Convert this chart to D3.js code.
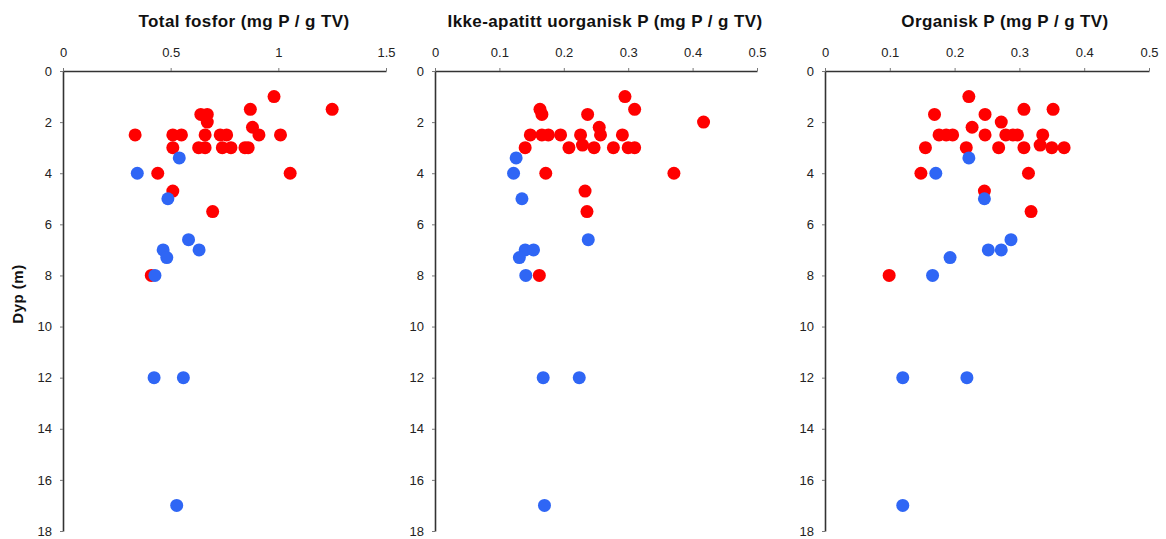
<!DOCTYPE html>
<html>
<head>
<meta charset="utf-8">
<script src="https://cdn.jsdelivr.net/npm/d3@7"></script>
<style>
  body { margin: 0; background: #fff; }
  text { font-family: "Liberation Sans", Arial, sans-serif; }
</style>
</head>
<body>
<div id="chart"></div>
<script>
const W = 1166, H = 539;

// depths (m) shared by the blue series
const blueDepth = [3.4, 4, 5, 6.6, 7, 7, 7.3, 8, 12, 12, 17];

// panel 1: Total fosfor
const totRedDepth = [1, 1.5, 1.5, 1.7, 1.7, 2, 2.2,
  2.5, 2.5, 2.5, 2.5, 2.5, 2.5, 2.5, 2.5,
  3, 3, 3, 3, 3, 3, 3, 4, 4, 4.7, 5.5, 8];
const totRedValue = [0.98, 1.25, 0.87, 0.64, 0.67, 0.67, 0.88,
  0.335, 0.51, 0.55, 0.66, 0.73, 0.76, 0.91, 1.01,
  0.51, 0.63, 0.66, 0.74, 0.78, 0.845, 0.86, 0.44, 1.055, 0.51, 0.695, 0.41];
const totBlueValue = [0.54, 0.345, 0.487, 0.583, 0.465, 0.632, 0.482, 0.427, 0.423, 0.559, 0.528];

// panel 2: Ikke-apatitt uorganisk P
const nairpRedDepth = [1, 1.5, 1.5, 1.7, 1.7, 2, 2.2,
  2.5, 2.5, 2.5, 2.5, 2.5, 2.5, 2.5, 2.9,
  3, 3, 3, 3, 3, 3, 4, 4, 4.7, 5.5, 8];
const nairpRedValue = [0.295, 0.31, 0.163, 0.166, 0.237, 0.417, 0.255,
  0.148, 0.166, 0.176, 0.195, 0.226, 0.257, 0.291, 0.229,
  0.14, 0.208, 0.247, 0.277, 0.30, 0.31, 0.172, 0.371, 0.233, 0.236, 0.162];
const nairpBlueValue = [0.126, 0.122, 0.135, 0.238, 0.14, 0.153, 0.131, 0.141, 0.168, 0.224, 0.17];

// panel 3: Organisk P
const orgRedDepth = [1, 1.5, 1.5, 1.7, 1.7, 2, 2.2,
  2.5, 2.5, 2.5, 2.5, 2.5, 2.5, 2.5, 2.5, 2.9,
  3, 3, 3, 3, 3, 3, 4, 4, 4.7, 5.5, 8];
const orgRedValue = [0.222, 0.307, 0.352, 0.169, 0.247, 0.272, 0.227,
  0.176, 0.187, 0.197, 0.247, 0.279, 0.29, 0.297, 0.336, 0.332,
  0.155, 0.218, 0.268, 0.307, 0.35, 0.369, 0.148, 0.314, 0.246, 0.318, 0.099];
const orgBlueValue = [0.222, 0.171, 0.246, 0.287, 0.252, 0.272, 0.193, 0.166, 0.12, 0.219, 0.12];

const yTicks = [0, 2, 4, 6, 8, 10, 12, 14, 16, 18];
const xTicksTot = [0, 0.5, 1, 1.5];
const xTicksP = [0, 0.1, 0.2, 0.3, 0.4, 0.5];

const panels = [
  {title: "Total fosfor (mg P / g TV)", left: 63, right: 386, titleX: 244, max: 1.5, ticks: xTicksTot,
   redDepth: totRedDepth, redValue: totRedValue, blueValue: totBlueValue},
  {title: "Ikke-apatitt uorganisk P (mg P / g TV)", left: 435, right: 757, titleX: 605, max: 0.5, ticks: xTicksP,
   redDepth: nairpRedDepth, redValue: nairpRedValue, blueValue: nairpBlueValue},
  {title: "Organisk P (mg P / g TV)", left: 825, right: 1149, titleX: 1005, max: 0.5, ticks: xTicksP,
   redDepth: orgRedDepth, redValue: orgRedValue, blueValue: orgBlueValue}
];

const TOP = 71, BOTTOM = 531, R = 6.5;

const svg = d3.select("#chart").append("svg")
  .attr("width", W)
  .attr("height", H);

const y = d3.scaleLinear().domain([0, 18]).range([TOP, BOTTOM]);

panels.forEach(p => {
  const x = d3.scaleLinear().domain([0, p.max]).range([p.left, p.right]);
  const g = svg.append("g");

  // top axis
  const xa = g.append("g")
    .attr("transform", `translate(0,${TOP})`)
    .call(d3.axisTop(x).tickValues(p.ticks).tickFormat(d3.format("~g")).tickSize(3).tickSizeOuter(0).tickPadding(11));

  // left axis
  const ya = g.append("g")
    .attr("transform", `translate(${p.left},0)`)
    .call(d3.axisLeft(y).tickValues(yTicks).tickSize(3).tickSizeOuter(0).tickPadding(8));

  [xa, ya].forEach(a => {
    a.select(".domain").attr("stroke", "#333").attr("stroke-width", 1.6);
    a.selectAll(".tick line").attr("stroke", "#777");
    a.selectAll(".tick text").attr("fill", "#222").style("font-size", "13px");
  });

  g.append("text")
    .attr("x", p.titleX)
    .attr("y", 27)
    .attr("text-anchor", "middle")
    .style("font-size", "17px")
    .style("font-weight", "bold")
    .style("letter-spacing", "0.4px")
    .attr("fill", "#111")
    .text(p.title);

  const red = p.redValue.map((v, i) => ({v: v, d: p.redDepth[i]}));
  const blue = p.blueValue.map((v, i) => ({v: v, d: blueDepth[i]}));

  g.selectAll(".red").data(red).enter().append("circle")
    .attr("class", "red")
    .attr("cx", d => x(d.v))
    .attr("cy", d => y(d.d))
    .attr("r", R)
    .attr("fill", "#ff0000");

  g.selectAll(".blue").data(blue).enter().append("circle")
    .attr("class", "blue")
    .attr("cx", d => x(d.v))
    .attr("cy", d => y(d.d))
    .attr("r", R)
    .attr("fill", "#2f66f5");
});

svg.append("text")
  .attr("transform", "translate(23,294) rotate(-90)")
  .attr("text-anchor", "middle")
  .style("font-size", "15px")
  .style("font-weight", "bold")
  .style("letter-spacing", "0.5px")
  .attr("fill", "#111")
  .text("Dyp (m)");
</script>
</body>
</html>
